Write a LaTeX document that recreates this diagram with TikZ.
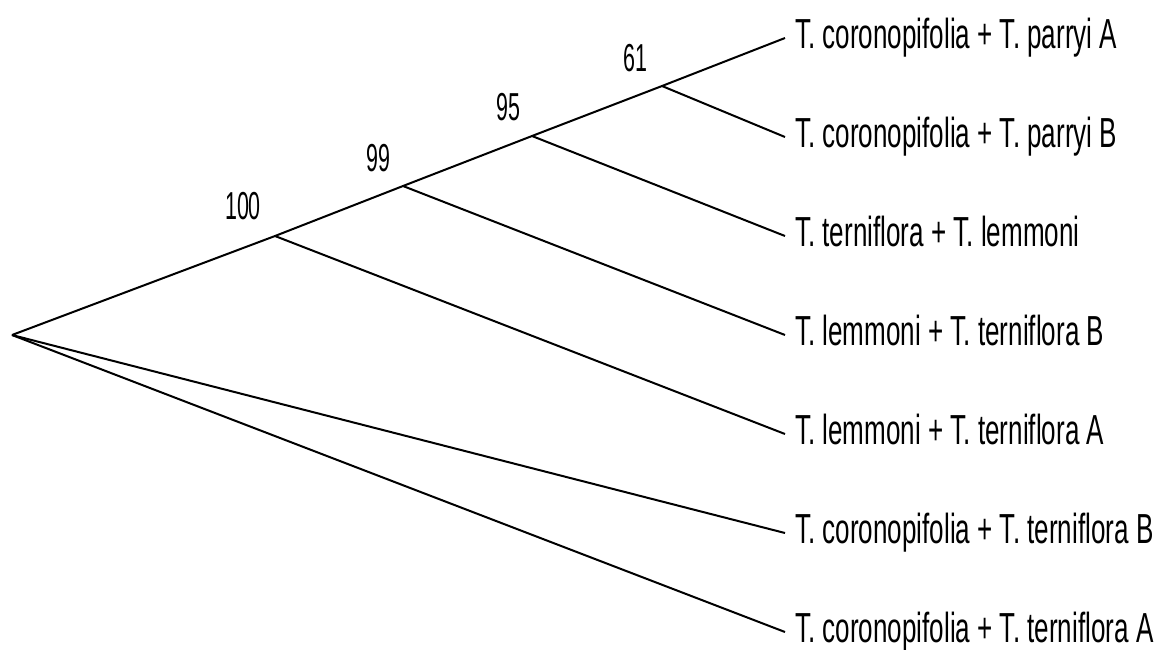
\documentclass[tikz,border=0pt]{standalone}
\usepackage{fontspec}
\setmainfont[FakeStretch=0.62]{Liberation Sans}
\newfontfamily\numfont[FakeStretch=0.55]{Liberation Sans}
\begin{document}
\begin{tikzpicture}[x=1pt,y=-1pt,
  branch/.style={line width=2pt,black},
  leaflabel/.style={anchor=base west,inner sep=0pt,font=\fontsize{42}{42}\selectfont},
  support/.style={inner sep=0pt,font=\numfont\fontsize{39}{39}\selectfont}]
\useasboundingbox (0,0) rectangle (1165,649);
\coordinate (root) at (12,335);
\coordinate (n100) at (275,236);
\coordinate (n99) at (403,186);
\coordinate (n95) at (532,136);
\coordinate (n61) at (662,86);
\coordinate (t1) at (785,38);
\coordinate (t2) at (785,137);
\coordinate (t3) at (785,236);
\coordinate (t4) at (785,335);
\coordinate (t5) at (785,434);
\coordinate (t6) at (785,533);
\coordinate (t7) at (785,632);
\draw[branch] (root) -- (n100) -- (n99) -- (n95) -- (n61) -- (t1);
\draw[branch] (n61) -- (t2);
\draw[branch] (n95) -- (t3);
\draw[branch] (n99) -- (t4);
\draw[branch] (n100) -- (t5);
\draw[branch] (root) -- (t6);
\draw[branch] (root) -- (t7);
\node[leaflabel] (l1) at ([xshift=10pt,yshift=-10pt]t1) {T. coronopifolia + T. parryi A};
\node[leaflabel] (l2) at ([xshift=10pt,yshift=-10pt]t2) {T. coronopifolia + T. parryi B};
\node[leaflabel] (l3) at ([xshift=10pt,yshift=-10pt]t3) {T. terniflora + T. lemmoni};
\node[leaflabel] (l4) at ([xshift=10pt,yshift=-10pt]t4) {T. lemmoni + T. terniflora B};
\node[leaflabel] (l5) at ([xshift=10pt,yshift=-10pt]t5) {T. lemmoni + T. terniflora A};
\node[leaflabel] (l6) at ([xshift=10pt,yshift=-10pt]t6) {T. coronopifolia + T. terniflora B};
\node[leaflabel] (l7) at ([xshift=10pt,yshift=-10pt]t7) {T. coronopifolia + T. terniflora A};
\node[support] (s100) at (243,206) {100};
\node[support] (s99) at (378,158) {99};
\node[support] (s95) at (508,107) {95};
\node[support] (s61) at (635,58) {61};
\end{tikzpicture}
\end{document}
